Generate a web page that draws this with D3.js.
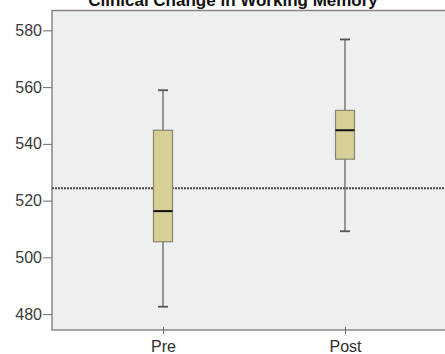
<!DOCTYPE html>
<html>
<head>
<meta charset="utf-8">
<script src="https://cdn.jsdelivr.net/npm/d3@7"></script>
<style>
  body { margin: 0; background: #fff; }
  svg { display: block; font-family: "Liberation Sans", Arial, sans-serif; }
</style>
</head>
<body>
<svg id="chart" width="445" height="354"></svg>
<script>
// groups and their box stats
var groups = ["Pre", "Post"];
var whiskerLow = [482.6, 509.2];
var q1 = [505.5, 534.6];
var medians = [516.3, 544.8];
var q3 = [544.8, 551.8];
var whiskerHigh = [558.9, 576.8];
var refLine = 524.4;
var yTicks = [480, 500, 520, 540, 560, 580];
var title = "Clinical Change in Working Memory";

var svg = d3.select("svg#chart"),
  width = +svg.attr("width"),
  height = +svg.attr("height");

var plotLeft = 52, plotTop = 10.5, plotBottom = 330;

var y = d3.scaleLinear()
  .domain([474.4, 587])
  .range([plotBottom, plotTop]);

var x = d3.scalePoint()
  .domain(groups)
  .range([163, 345]);

// plot background
svg.append("rect")
  .attr("x", plotLeft)
  .attr("y", plotTop)
  .attr("width", width - plotLeft)
  .attr("height", plotBottom - plotTop)
  .attr("fill", "#eef0f0");

// frame: top, left, bottom
svg.append("path")
  .attr("d", "M" + width + "," + plotTop + "H" + plotLeft + "V" + plotBottom + "H" + width)
  .attr("fill", "none")
  .attr("stroke", "#8b8682")
  .attr("stroke-width", 1.5);

// y axis
var yAxis = d3.axisLeft(y).tickValues(yTicks).tickSize(9).tickPadding(1);
var gy = svg.append("g")
  .attr("transform", "translate(" + plotLeft + ",0)")
  .call(yAxis);
gy.select(".domain").remove();
gy.selectAll(".tick line").attr("stroke", "#6e6a66");
gy.selectAll(".tick text")
  .attr("fill", "#3a3a3a")
  .style("font-size", "16px");

// x axis
var xAxis = d3.axisBottom(x).tickSize(4).tickPadding(7);
var gx = svg.append("g")
  .attr("transform", "translate(0," + plotBottom + ")")
  .call(xAxis);
gx.select(".domain").remove();
gx.selectAll(".tick line").attr("stroke", "#6e6a66").attr("y1", -3);
gx.selectAll(".tick text")
  .attr("fill", "#2e2e2e")
  .style("font-size", "16px");

// reference line
svg.append("line")
  .attr("x1", plotLeft)
  .attr("x2", width)
  .attr("y1", y(refLine))
  .attr("y2", y(refLine))
  .attr("stroke", "#4a4644")
  .attr("stroke-width", 2)
  .attr("stroke-dasharray", "2,1");

var boxW = 19, capW = 10;

var box = svg.append("g")
  .selectAll("g")
  .data(groups)
  .join("g");

// whiskers
box.append("line")
  .attr("x1", d => x(d))
  .attr("x2", d => x(d))
  .attr("y1", (d, i) => y(whiskerLow[i]))
  .attr("y2", (d, i) => y(whiskerHigh[i]))
  .attr("stroke", "#6b6360")
  .attr("stroke-width", 1.3);

box.append("line")
  .attr("x1", d => x(d) - capW / 2)
  .attr("x2", d => x(d) + capW / 2)
  .attr("y1", (d, i) => y(whiskerHigh[i]))
  .attr("y2", (d, i) => y(whiskerHigh[i]))
  .attr("stroke", "#5a5350")
  .attr("stroke-width", 1.8);

box.append("line")
  .attr("x1", d => x(d) - capW / 2)
  .attr("x2", d => x(d) + capW / 2)
  .attr("y1", (d, i) => y(whiskerLow[i]))
  .attr("y2", (d, i) => y(whiskerLow[i]))
  .attr("stroke", "#5a5350")
  .attr("stroke-width", 1.8);

// boxes
box.append("rect")
  .attr("x", d => x(d) - boxW / 2)
  .attr("width", boxW)
  .attr("y", (d, i) => y(q3[i]))
  .attr("height", (d, i) => y(q1[i]) - y(q3[i]))
  .attr("fill", "#d6d096")
  .attr("stroke", "#8a8470")
  .attr("stroke-width", 1.2);

// medians
box.append("line")
  .attr("x1", d => x(d) - boxW / 2)
  .attr("x2", d => x(d) + boxW / 2)
  .attr("y1", (d, i) => y(medians[i]))
  .attr("y2", (d, i) => y(medians[i]))
  .attr("stroke", "#111")
  .attr("stroke-width", 2);

// title (partly cut off at top, as in the source image)
svg.append("text")
  .attr("x", 233)
  .attr("y", 6)
  .attr("text-anchor", "middle")
  .attr("font-weight", "bold")
  .attr("fill", "#111")
  .style("font-size", "17px")
  .text(title);
</script>
</body>
</html>
